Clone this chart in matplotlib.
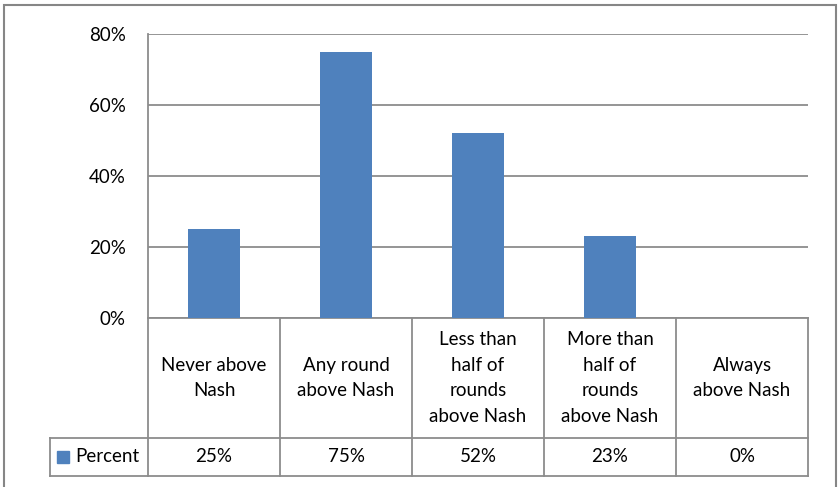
import matplotlib.pyplot as plt
import matplotlib.transforms as mtransforms
from matplotlib.patches import Rectangle
from matplotlib.ticker import PercentFormatter

categories = ["Never above\nNash", "Any round\nabove Nash",
              "Less than\nhalf of\nrounds\nabove Nash",
              "More than\nhalf of\nrounds\nabove Nash",
              "Always\nabove Nash"]
percent = [0.25, 0.75, 0.52, 0.23, 0.0]
series_name = "Percent"
yticks = [0, 0.2, 0.4, 0.6, 0.8]

bar_color = "#4F81BD"
line_color = "#8C8C8C"
plt.rcParams["font.family"] = ["Lato", "DejaVu Sans"]
plt.rcParams["font.size"] = 13.5

W, H = 838, 487
fig = plt.figure(figsize=(W / 100, H / 100), dpi=100)
# plot area in pixels: x 148..808, y 34..318
ax = fig.add_axes([148 / W, 1 - 318 / H, 660 / W, 284 / H])

x = list(range(len(categories)))
ax.bar(x, percent, width=0.4, color=bar_color, zorder=3)
ax.set_xlim(-0.5, len(categories) - 0.5)
ax.set_ylim(0, 0.8)
ax.set_yticks(yticks)
ax.yaxis.set_major_formatter(PercentFormatter(1.0, decimals=0))
ax.tick_params(axis="y", length=0, pad=16, labelsize=13.5, colors="black")
ax.set_xticks([])
ax.grid(axis="y", color=line_color, linewidth=1.3, zorder=0)
for s in ["top", "right", "bottom"]:
    ax.spines[s].set_visible(False)
ax.spines["left"].set_color(line_color)
ax.spines["left"].set_linewidth(1.3)

# data table below the axis: x in data units, y in axes units
tr = mtransforms.blended_transform_factory(ax.transData, ax.transAxes)
px_y = 284.0
row1 = -(438 - 318) / px_y
row2 = -(476 - 318) / px_y
legend_left = -0.5 - 98 / 132.0
kw = dict(color=line_color, linewidth=1.3, transform=tr, clip_on=False)

ax.plot([-0.5, 4.5], [0, 0], **kw)
ax.plot([legend_left, 4.5], [row1, row1], **kw)
ax.plot([legend_left, 4.5], [row2, row2], **kw)
ax.plot([legend_left, legend_left], [row1, row2], **kw)
for b in range(len(categories) + 1):
    ax.plot([b - 0.5, b - 0.5], [0, row2], **kw)

for i, (cat, val) in enumerate(zip(categories, percent)):
    ax.text(i, row1 / 2, cat, transform=tr, ha="center", va="center",
            linespacing=1.62, clip_on=False)
    ax.text(i, (row1 + row2) / 2, f"{val:.0%}", transform=tr,
            ha="center", va="center", clip_on=False)

# legend key inside the table
sq = 12 / 132.0
ax.add_patch(Rectangle((legend_left + 7 / 132.0, (row1 + row2) / 2 - 6 / px_y),
                       sq, 12 / px_y, transform=tr, color=bar_color,
                       clip_on=False))
ax.text(legend_left + 25 / 132.0, (row1 + row2) / 2, series_name,
        transform=tr, ha="left", va="center", clip_on=False)

# chart border
fig.add_artist(Rectangle((4 / W, -0.05), 832 / W, 1.05 - 5 / H,
                         transform=fig.transFigure, fill=False,
                         edgecolor="#868686", linewidth=1.5))

fig.savefig("out.png", dpi=100)
